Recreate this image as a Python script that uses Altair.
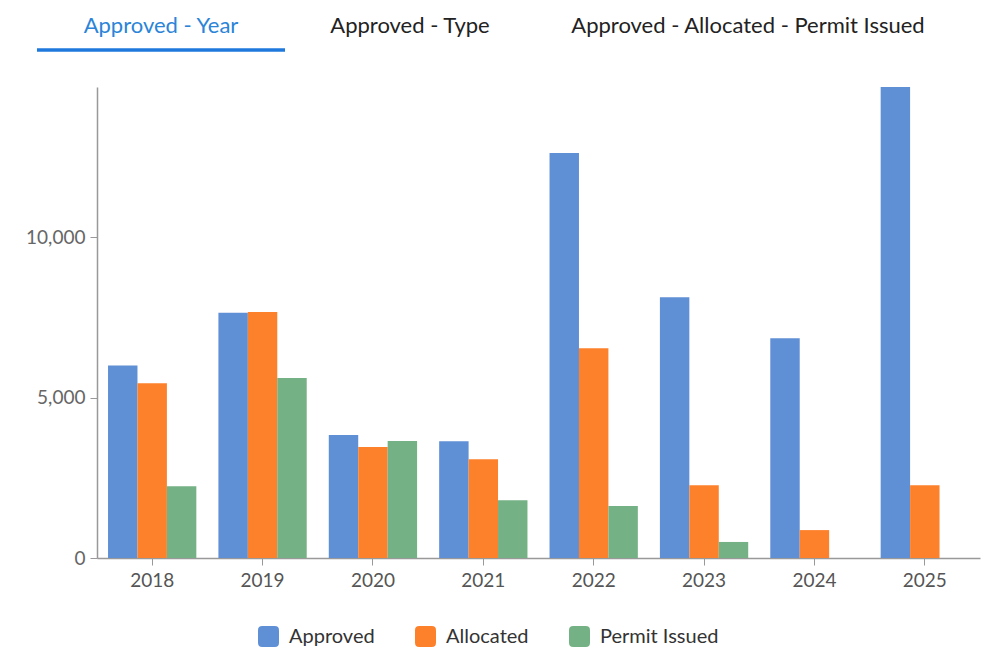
import altair as alt
import pandas as pd

years = ["2018", "2019", "2020", "2021", "2022", "2023", "2024", "2025"]
approved = [6000, 7640, 3830, 3640, 12620, 8130, 6850, 14680]
allocated = [5450, 7670, 3460, 3080, 6540, 2270, 870, 2270]
permit_issued = [2240, 5610, 3650, 1800, 1620, 500, 0, 0]

series = ["Approved", "Allocated", "Permit Issued"]
colors = ["#5f8fd4", "#fd812b", "#74b184"]

tabs = ["Approved - Year", "Approved - Type", "Approved - Allocated - Permit Issued"]
tab_colors = ["#2a84d8", "#222222", "#222222"]
tab_x = [64, 313, 651]

rows = []
for i, y in enumerate(years):
    rows.append({"Year": y, "Series": "Approved", "Value": approved[i]})
    rows.append({"Year": y, "Series": "Allocated", "Value": allocated[i]})
    rows.append({"Year": y, "Series": "Permit Issued", "Value": permit_issued[i]})
df = pd.DataFrame(rows)

FONT = "Lato"

rounded = "M-0.6,-1L0.6,-1Q1,-1 1,-0.6L1,0.6Q1,1 0.6,1L-0.6,1Q-1,1 -1,0.6L-1,-0.6Q-1,-1 -0.6,-1Z"

bars = alt.Chart(df).mark_bar().encode(
    x=alt.X("Year:N", sort=years, title=None,
            scale=alt.Scale(paddingInner=0.2, paddingOuter=0.1),
            axis=alt.Axis(labelAngle=0, labelFontSize=19, labelColor="#555555",
                          labelFont=FONT, labelPadding=6, tickSize=7,
                          tickColor="#999999", domainColor="#999999",
                          domainWidth=1.5, grid=False)),
    xOffset=alt.XOffset("Series:N", sort=series),
    y=alt.Y("Value:Q", title=None,
            scale=alt.Scale(domain=[0, 14680], nice=False),
            axis=alt.Axis(values=[0, 5000, 10000], format=",.0f", labelFontSize=19,
                          labelColor="#666666", labelFont=FONT, labelPadding=5,
                          tickSize=7, tickColor="#999999", domainColor="#999999",
                          domainWidth=1.5, grid=False)),
    color=alt.Color("Series:N", sort=series,
                    scale=alt.Scale(domain=series, range=colors),
                    legend=alt.Legend(title=None, orient="none", direction="horizontal",
                                      legendX=161, legendY=539,
                                      symbolType=rounded, symbolSize=441,
                                      symbolStrokeWidth=0, symbolOpacity=1,
                                      labelFontSize=20, labelColor="#333333",
                                      labelFont=FONT, labelOffset=10,
                                      columnPadding=40)),
)

layers = [bars]
for label, cx, col in zip(tabs, tab_x, tab_colors):
    layers.append(
        alt.Chart(pd.DataFrame({"label": [label]})).mark_text(
            fontSize=22, font=FONT, baseline="middle", align="center", color=col
        ).encode(text="label:N", x=alt.value(cx), y=alt.value(-61))
    )

underline = alt.Chart(pd.DataFrame({"a": [0]})).mark_rule(
    color="#1f78dc", strokeWidth=3.5
).encode(x=alt.value(-60), x2=alt.value(188), y=alt.value(-37))
layers.append(underline)

chart = alt.layer(*layers).properties(
    width=883, height=471,
    autosize=alt.AutoSizeParams(type="none"),
    padding={"left": 89, "top": 79, "right": 6, "bottom": 89},
).configure_view(stroke=None)

chart.save("out.html", embed_options={"renderer": "svg", "actions": False})
